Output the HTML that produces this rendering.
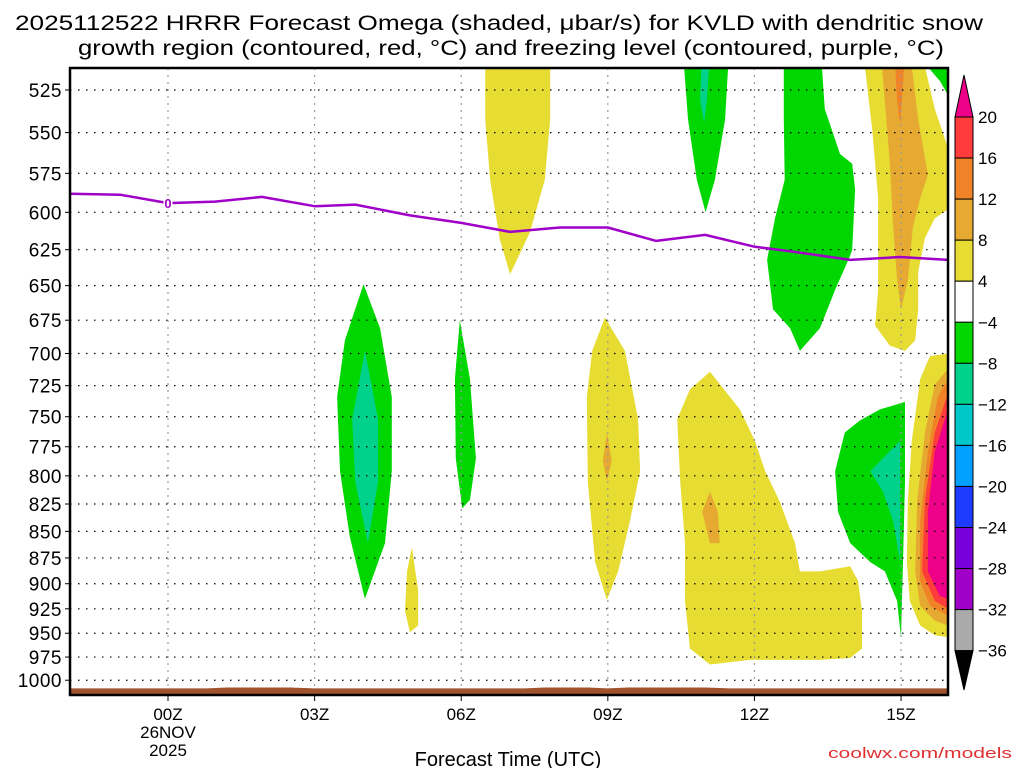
<!DOCTYPE html>
<html><head><meta charset="utf-8"><style>
html,body{margin:0;padding:0;background:#fff;}
svg{display:block;font-family:"Liberation Sans","DejaVu Sans",sans-serif;}
</style></head><body>
<svg id="chart" width="1024" height="768" viewBox="0 0 1024 768" xmlns="http://www.w3.org/2000/svg">
<text x="499" y="30" font-size="21" text-anchor="middle" textLength="968" lengthAdjust="spacingAndGlyphs">2025112522 HRRR Forecast Omega (shaded, μbar/s) for KVLD with dendritic snow</text>
<text x="511" y="55" font-size="21" text-anchor="middle" textLength="866" lengthAdjust="spacingAndGlyphs">growth region (contoured, red, °C) and freezing level (contoured, purple, °C)</text>
<g id="plot"></g>
<g id="cbar"></g>
<text x="508" y="766" font-size="20" text-anchor="middle">Forecast Time (UTC)</text>
<text x="1012" y="758" font-size="15" fill="#e03030" text-anchor="end" textLength="184" lengthAdjust="spacingAndGlyphs">coolwx.com/models</text>
</svg>
<script>
// ---- data ----
const pressureTicks=[525,550,575,600,625,650,675,700,725,750,775,800,825,850,875,900,925,950,975,1000];
const timeTicks=[0,3,6,9,12,15];
const timeLabels=["00Z","03Z","06Z","09Z","12Z","15Z"];
const cbarLevels=[20,16,12,8,4,-4,-8,-12,-16,-20,-24,-28,-32,-36];
const cbarColors=["#ff3c3c","#f08228","#e6aa32","#e6dc32","#ffffff","#00d700","#00d28c","#00c8c8","#00a0ff","#1e3cff","#7800dc","#a000c8","#aaaaaa"];
const freezeHours=[-2,-0.98,0,0.96,1.92,3,3.83,4.95,6,7,8.02,9,9.99,10.99,12.01,12.73,13.96,14.98,15.96];
const freezeLevel=[588,588.6,594,593,590,596,595,602,607,613,610,610,619,615,623,626,632,630,632];
const terrainHours=[-2,0.8,1.2,2.5,3,7.3,7.7,8.6,9,9.4,9.8,11,11.5,15.96];
const terrainPres=[1009,1009,1008,1008,1009,1009,1008,1008,1009,1008,1008,1008,1009,1009];
// filled omega regions: [color, [[hour,hPa],...]]
const omegaRegions=[
 ["#e6dc32",[[6.49,512],[7.82,512],[7.82,542],[7.71,579],[7.41,613],[7.0,642],[6.79,618],[6.59,579],[6.49,542]]],
 ["#00d700",[[4.0,649],[4.34,681],[4.58,734],[4.58,796],[4.44,861],[4.03,915],[3.72,855],[3.52,796],[3.46,734],[3.62,690]]],
 ["#00d28c",[[4.03,698],[4.3,752],[4.3,805],[4.09,861],[3.83,805],[3.77,752]]],
 ["#00d700",[[5.97,675],[6.18,720],[6.3,785],[6.18,821],[6.02,829],[5.89,785],[5.87,720]]],
 ["#e6dc32",[[4.99,865],[5.12,907],[5.12,942],[4.95,949],[4.85,927],[4.89,888]]],
 ["#e6dc32",[[8.94,673],[9.35,698],[9.62,752],[9.66,796],[9.45,841],[9.21,888],[8.98,916],[8.74,879],[8.59,805],[8.57,734],[8.68,698]]],
 ["#e6aa32",[[8.98,763],[9.08,787],[8.98,805],[8.9,787]]],
 ["#e6dc32",[[11.09,714],[11.7,744],[12.01,770],[12.22,796],[12.52,823],[12.83,861],[12.93,888],[13.34,888],[13.96,883],[14.12,897],[14.2,927],[14.2,966],[13.96,976],[13.34,978],[11.91,978],[11.09,983],[10.68,966],[10.58,917],[10.58,861],[10.48,805],[10.42,752],[10.68,728]]],
 ["#e6aa32",[[11.09,814],[11.25,832],[11.29,861],[11.09,861],[10.93,832]]],
 ["#00d700",[[10.56,512],[11.46,512],[11.4,542],[11.19,579],[11.0,600],[10.82,579],[10.64,542]]],
 ["#00d28c",[[10.91,512],[11.07,512],[11.03,531],[10.97,544],[10.89,531]]],
 ["#00d700",[[12.6,512],[13.38,512],[13.44,536],[13.75,563],[14.0,569],[14.06,585],[14.0,625],[13.96,629],[13.65,653],[13.34,681],[12.93,698],[12.73,681],[12.38,667],[12.26,632],[12.42,604],[12.62,579],[12.6,542]]],
 ["#e6dc32",[[14.26,512],[15.49,512],[15.69,536],[15.9,554],[15.96,560],[15.96,598],[15.69,604],[15.49,617],[15.35,640],[15.35,667],[15.29,690],[15.08,698],[14.77,694],[14.47,679],[14.53,653],[14.53,591],[14.41,548]]],
 ["#e6aa32",[[14.61,512],[15.22,512],[15.35,542],[15.55,576],[15.39,591],[15.24,610],[15.14,646],[15.0,667],[14.92,646],[14.84,610],[14.77,568]]],
 ["#f08228",[[14.88,512],[15.06,512],[15.02,531],[14.98,545],[14.92,531]]],
 ["#00d700",[[15.55,512],[15.96,512],[15.96,528],[15.8,520]]],
 ["#00d700",[[15.08,738],[15.08,805],[15.04,879],[15.0,955],[14.92,917],[14.67,888],[14.37,879],[13.96,861],[13.71,832],[13.65,796],[13.85,763],[14.16,753],[14.57,744]]],
 ["#00d28c",[[14.98,770],[14.98,879],[14.84,841],[14.63,814],[14.37,796],[14.67,783]]],
 ["#e6dc32",[[15.96,700],[15.59,702],[15.39,720],[15.22,770],[15.14,821],[15.12,879],[15.18,917],[15.39,942],[15.69,952],[15.96,954]]],
 ["#e6aa32",[[15.96,712],[15.69,724],[15.49,763],[15.33,821],[15.29,888],[15.39,922],[15.69,937],[15.96,942]]],
 ["#f08228",[[15.96,720],[15.75,734],[15.55,779],[15.39,841],[15.39,897],[15.59,922],[15.96,932]]],
 ["#ff3c3c",[[15.96,731],[15.69,763],[15.49,821],[15.43,888],[15.69,917],[15.96,925]]],
 ["#ee0088",[[15.96,744],[15.69,779],[15.55,832],[15.55,888],[15.79,912],[15.96,915]]]
];
// ---- axes ----
const X0=70,X1=948,Y0=68,Y1=695;
const xs=h=>168+h*48.87;
const ys=p=>90+916*Math.log(p/525);
const NS="http://www.w3.org/2000/svg";
function mk(tag,attrs,parent){const e=document.createElementNS(NS,tag);for(const k in attrs)e.setAttribute(k,attrs[k]);parent.appendChild(e);return e;}
const plot=document.getElementById('plot');
const clip=mk('clipPath',{id:'pc'},plot);mk('rect',{x:X0,y:Y0,width:X1-X0,height:Y1-Y0},clip);
const fills=mk('g',{'clip-path':'url(#pc)'},plot);


omegaRegions.forEach((r,i)=>{
 const el=mk('polygon',{points:r[1].map(q=>xs(q[0]).toFixed(1)+','+ys(q[1]).toFixed(1)).join(' '),fill:r[0]},fills);
 
 
});
// grid
pressureTicks.forEach(p=>{
 const y=ys(p);
 const g=mk('line',{x1:X0,x2:X1,y1:y,y2:y,stroke:'#000','stroke-width':1.2,'stroke-dasharray':'1.5 6.5'},plot);
 
 
 mk('line',{x1:X0-5,x2:X0,y1:y,y2:y,stroke:'#000'},plot);
 const t=mk('text',{x:X0-8,y:y+7,'font-size':19,'text-anchor':'end','letter-spacing':'0.5'},plot);t.textContent=p;
 
 
});
timeTicks.forEach((h,i)=>{
 const x=xs(h);
 const g=mk('line',{x1:x,x2:x,y1:Y0,y2:Y1,stroke:'#999','stroke-width':1.2,'stroke-dasharray':'2 5'},plot);
 
 
 mk('line',{x1:x,x2:x,y1:Y1,y2:Y1+6,stroke:'#000'},plot);
 const t=mk('text',{x:x,y:720,'font-size':17,'text-anchor':'middle'},plot);t.textContent=timeLabels[i];
 
 
});
[["26NOV",738],["2025",756]].forEach(a=>{const t=mk('text',{x:168,y:a[1],'font-size':17,'text-anchor':'middle'},plot);t.textContent=a[0];
 
 });
// terrain
const terr=mk('polygon',{points:terrainHours.map((h,i)=>xs(h).toFixed(1)+','+ys(terrainPres[i]).toFixed(1)).join(' ')+' '+X1+','+Y1+' '+X0+','+Y1,fill:'#a0522d'},plot);


// freezing line
const fl=mk('polyline',{points:freezeHours.map((h,i)=>xs(h).toFixed(1)+','+ys(freezeLevel[i]).toFixed(1)).join(' '),fill:'none',stroke:'#a000c8','stroke-width':2.5,'stroke-linejoin':'round'},plot);


const fz=mk('text',{x:168,y:ys(594)+5,'font-size':13,'text-anchor':'middle',fill:'#a000c8','font-weight':'bold',stroke:'#fff','stroke-width':3,'paint-order':'stroke'},plot);fz.textContent='0';


const fr=mk('rect',{x:X0,y:Y0,width:X1-X0,height:Y1-Y0,fill:'none',stroke:'#000','stroke-width':2.5},plot);


// colorbar
const cb=document.getElementById('cbar');
const CX=955,CW=18,CT=117,CS=41.05;
mk('polygon',{points:`${CX},${CT} ${CX+CW},${CT} ${CX+CW/2},75`,fill:'#ee0088',stroke:'#000'},cb);
cbarColors.forEach((c,i)=>{
 const r=mk('rect',{x:CX,y:CT+i*CS,width:CW,height:CS,fill:c,stroke:'#000'},cb);
 
 
});
const cbot=CT+cbarColors.length*CS;
mk('polygon',{points:`${CX},${cbot} ${CX+CW},${cbot} ${CX+CW/2},690`,fill:'#000',stroke:'#000'},cb);
cbarLevels.forEach((v,i)=>{
 const t=mk('text',{x:978,y:CT+i*CS+6,'font-size':17},cb);t.textContent=(v<0?'\u2212':'')+Math.abs(v);
 
 
});
</script>
</body></html>
